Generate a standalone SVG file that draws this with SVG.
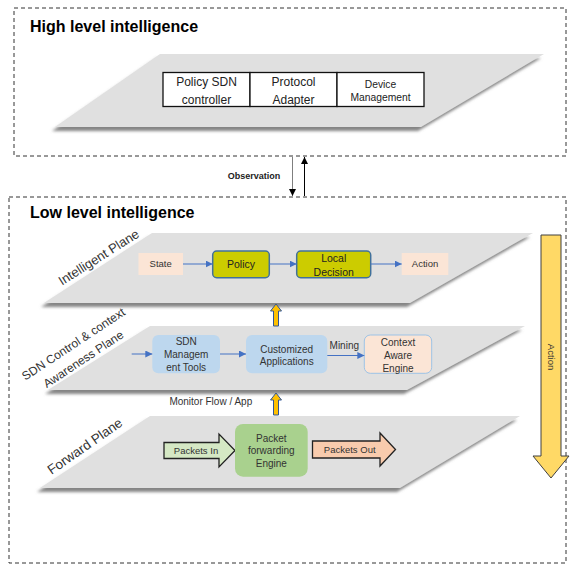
<svg xmlns="http://www.w3.org/2000/svg" width="570" height="567" viewBox="0 0 570 567">
<style>
text{font-family:"Liberation Sans",Arial,sans-serif;fill:#333}
.title{font-size:16px;font-weight:bold;fill:#000}
.dash{fill:none;stroke:#333;stroke-width:1;stroke-dasharray:4 3}
.plane{fill:#e0e0e0}
.hb{fill:#fff;stroke:#111;stroke-width:1.3}
.t12{font-size:12px;text-anchor:middle;fill:#222}
.t10{font-size:10px;text-anchor:middle}
.lbl{font-size:13px;text-anchor:middle;fill:#333}
.blue{stroke:#4472c4;stroke-width:1;fill:none}
.peach{fill:#fbe5d6}
.olive{fill:#cccc00;stroke:#41719c;stroke-width:1.5}
.lblue{fill:#bdd7ee}
.orange{fill:#ffc000;stroke:#2f5597;stroke-width:1}
</style>
<defs>
<marker id="bh" viewBox="0 0 10 10" refX="10" refY="5" markerWidth="7" markerHeight="7" markerUnits="userSpaceOnUse" orient="auto"><path d="M0,0 L10,5 L0,10 z" fill="#4472c4"/></marker>
<marker id="kh" viewBox="0 0 10 10" refX="10" refY="5" markerWidth="7" markerHeight="7" markerUnits="userSpaceOnUse" orient="auto"><path d="M0,0 L10,5 L0,10 z" fill="#000"/></marker>
<filter id="sh" x="-10%" y="-20%" width="120%" height="150%">
<feGaussianBlur in="SourceAlpha" stdDeviation="1.6"/>
<feOffset dx="-3" dy="3.5" result="b"/>
<feFlood flood-color="#707070" flood-opacity="0.85"/>
<feComposite in2="b" operator="in"/>
<feMerge><feMergeNode/><feMergeNode in="SourceGraphic"/></feMerge>
</filter>
</defs>

<g id="high-level">
<rect class="dash" x="14" y="8" width="552" height="148"/>
<text class="title" x="30" y="32">High level intelligence</text>
<polygon class="plane" filter="url(#sh)" points="160,54 544,54 421,127 55,127"/>
</g>
<g id="policy-sdn-controller">
<rect class="hb" x="163" y="72.5" width="87" height="34"/>
<text class="t12" x="206.5" y="86">Policy SDN</text>
<text class="t12" x="206.5" y="103.5">controller</text>
</g>
<g id="protocol-adapter">
<rect class="hb" x="250" y="72.5" width="87" height="34"/>
<text class="t12" x="293.5" y="86">Protocol</text>
<text class="t12" x="293.5" y="103.5">Adapter</text>
</g>
<g id="device-management">
<rect class="hb" x="337" y="72.5" width="87" height="34"/>
<text x="380.5" y="87.5" style="font-size:10.3px;text-anchor:middle;fill:#222">Device</text>
<text x="380.5" y="100.5" style="font-size:10.3px;text-anchor:middle;fill:#222">Management</text>
</g>

<g id="low-level">
<rect class="dash" x="9" y="197" width="557" height="366"/>
<text class="title" x="30" y="218">Low level intelligence</text>
</g>

<g id="intelligent-plane">
<polygon class="plane" filter="url(#sh)" points="152,233 533,233 410,303 44,303"/>
<text class="lbl" transform="translate(101,261) rotate(-32.3)">Intelligent Plane</text>
</g>
<g id="sdn-plane">
<polygon class="plane" filter="url(#sh)" points="150,326 525,326 407,390 48,390"/>
<text x="0" y="0" style="font-size:12px;text-anchor:middle" transform="translate(75.7,347.5) rotate(-33.5)">SDN Control &amp; context</text>
<text x="0" y="0" style="font-size:12px;text-anchor:middle" transform="translate(85.6,362.5) rotate(-33.5)">Awareness Plane</text>
</g>
<g id="forward-plane">
<polygon class="plane" filter="url(#sh)" points="150,416 520,416 400,488 40,488"/>
<text class="lbl" style="font-size:13.5px" transform="translate(87.5,450) rotate(-34.9)">Forward Plane</text>
</g>

<g id="state">
<rect class="peach" x="138.5" y="253" width="44.5" height="22"/>
<text x="160.7" y="267.3" style="font-size:9.5px;text-anchor:middle">State</text>
</g>
<g id="policy">
<rect class="olive" x="212.7" y="251" width="56.6" height="26.7" rx="4"/>
<text x="241" y="267.7" style="font-size:10.5px;text-anchor:middle;fill:#222">Policy</text>
</g>
<g id="local-decision">
<rect class="olive" x="296.7" y="251" width="74" height="26.7" rx="4"/>
<text x="333.7" y="262" style="font-size:10.5px;text-anchor:middle;fill:#222">Local</text>
<text x="333.7" y="275.5" style="font-size:10.5px;text-anchor:middle;fill:#222">Decision</text>
</g>
<g id="action">
<rect class="peach" x="401.7" y="253" width="46.6" height="22"/>
<text x="425" y="267.3" style="font-size:9.5px;text-anchor:middle">Action</text>
</g>

<g id="sdn-management-tools">
<rect class="lblue" x="152.3" y="335" width="67.7" height="38.3" rx="6"/>
<text class="t10" x="186.2" y="344.5">SDN</text>
<text class="t10" x="186.2" y="358">Managem</text>
<text class="t10" x="186.2" y="371">ent Tools</text>
</g>
<g id="customized-applications">
<rect class="lblue" x="246" y="335" width="81.3" height="38.3" rx="6"/>
<text class="t10" x="286.7" y="352.5">Customized</text>
<text class="t10" x="286.7" y="364.8">Applications</text>
</g>
<g id="context-aware-engine">
<rect x="364.3" y="335" width="67.4" height="38.3" rx="6" fill="#fbe5d6" stroke="#9dc3e6" stroke-width="1"/>
<text class="t10" x="398" y="346.2">Context</text>
<text class="t10" x="398" y="359">Aware</text>
<text class="t10" x="398" y="371.8">Engine</text>
</g>

<g id="packets-in">
<polygon points="164,442.5 219,442.5 219,434 235,450.5 219,467 219,458.5 164,458.5" fill="#d5e8c4" stroke="#222" stroke-width="1.3"/>
<text x="196" y="453.8" style="font-size:9.5px;text-anchor:middle">Packets In</text>
</g>
<g id="packet-forwarding-engine">
<rect x="235" y="424" width="72.7" height="52.7" rx="8" fill="#a9d18e"/>
<text class="t10" x="271.3" y="441.8">Packet</text>
<text class="t10" x="271.3" y="454.3">forwarding</text>
<text class="t10" x="271.3" y="466.8">Engine</text>
</g>
<g id="packets-out">
<polygon points="312.5,441 380,441 380,433 395.5,449.5 380,466 380,458 312.5,458" fill="#f8cbad" stroke="#222" stroke-width="1.3"/>
<text x="349.7" y="453" style="font-size:9.5px;text-anchor:middle">Packets Out</text>
</g>

<g id="action-arrow">
<polygon points="541,235 561,235 561,456 569,456 551,478 533,456 541,456" fill="#ffd966" stroke="#404040" stroke-width="1"/>
<text x="0" y="0" style="font-size:9.5px;text-anchor:middle" transform="translate(548,357) rotate(90)">Action</text>
</g>

<g id="connectors">
<line x1="292.5" y1="157" x2="292.5" y2="196" stroke="#7f7f7f" stroke-width="1" marker-end="url(#kh)"/>
<line x1="304.5" y1="196" x2="304.5" y2="157" stroke="#000" stroke-width="1" marker-end="url(#kh)"/>
<text x="254" y="178.7" style="font-size:9px;font-weight:bold;text-anchor:middle;fill:#222">Observation</text>
<line class="blue" x1="183" y1="264" x2="212.7" y2="264" marker-end="url(#bh)"/>
<line class="blue" x1="269.3" y1="264" x2="296.7" y2="264" marker-end="url(#bh)"/>
<line class="blue" x1="370.7" y1="264" x2="401.7" y2="264" marker-end="url(#bh)"/>
<line class="blue" x1="131.7" y1="354" x2="152.3" y2="354" marker-end="url(#bh)"/>
<line class="blue" x1="220" y1="354" x2="246" y2="354" marker-end="url(#bh)"/>
<line class="blue" x1="327.3" y1="355.5" x2="364.3" y2="355.5" marker-end="url(#bh)"/>
<text x="344.3" y="348.5" style="font-size:10px;text-anchor:middle">Mining</text>
<text x="210.8" y="405.2" style="font-size:10px;text-anchor:middle">Monitor Flow / App</text>
<polygon class="orange" points="276,304 281.5,311 278.5,311 278.5,326 273.5,326 273.5,311 270.5,311"/>
<polygon class="orange" points="276,393 281.5,400 278.5,400 278.5,415 273.5,415 273.5,400 270.5,400"/>
</g>
</svg>
